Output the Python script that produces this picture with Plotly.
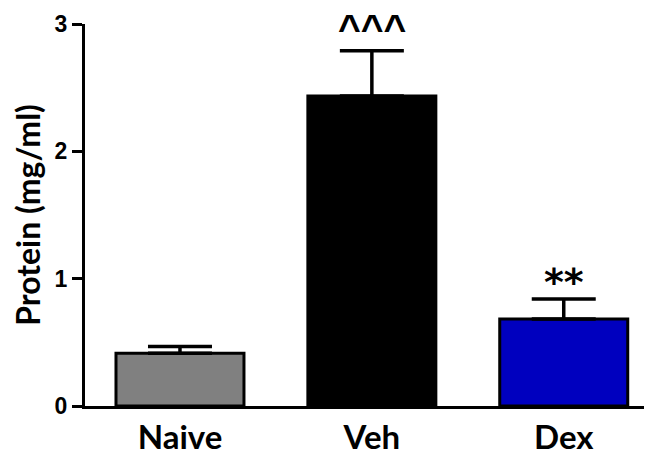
import plotly.graph_objects as go

categories = ["Naive", "Veh", "Dex"]
means = [0.415, 2.435, 0.683]
sem = [0.052, 0.355, 0.157]
colors = ["#808080", "#000000", "#0000BF"]
marks = ["", "^^^", "**"]
y_ticks = [0, 1, 2, 3]

xpos = list(range(len(categories)))

fig = go.Figure()
fig.add_trace(go.Bar(
    x=xpos, y=means, width=0.667,
    marker=dict(color=colors, line=dict(color="black", width=3)),
    error_y=dict(type="data", array=sem, arrayminus=[0]*len(sem), symmetric=False,
                 color="black", thickness=3.5, width=32),
    showlegend=False,
))

mark_fonts = {
    "^^^": dict(family="Liberation Sans", size=39, color="black", weight="bold"),
    "**": dict(family="DejaVu Sans", size=38, color="black", weight="bold"),
}
mark_shift = {"^^^": -1, "**": -7}
for i, m in enumerate(marks):
    if not m:
        continue
    fig.add_annotation(
        x=xpos[i], y=means[i] + sem[i], xref="x", yref="y",
        text=m, showarrow=False, yanchor="bottom", yshift=mark_shift[m],
        font=mark_fonts[m],
    )

fig.update_layout(
    width=644, height=451,
    margin=dict(l=77, r=0, t=16, b=53),
    plot_bgcolor="white", paper_bgcolor="white",
    xaxis=dict(
        range=[-0.495, 2.46], tickmode="array", tickvals=xpos, ticktext=categories,
        ticks="", showline=True, linecolor="black", linewidth=3, showgrid=False,
        zeroline=False,
        tickfont=dict(family="Lato", size=33, color="black", weight="bold"),
    ),
    xaxis2=dict(
        range=[-0.495, 2.46], overlaying="x", anchor="y", side="bottom",
        tickmode="array", tickvals=[xpos[1]], ticktext=[""], ticks="outside",
        ticklen=10, tickwidth=3, tickcolor="black", showline=False,
        showgrid=False, zeroline=False, showticklabels=False,
    ),
    yaxis=dict(
        range=[0, 3], tickmode="array", tickvals=y_ticks,
        ticks="outside", ticklen=10, tickwidth=3, tickcolor="black",
        showline=True, linecolor="black", linewidth=3, showgrid=False, zeroline=False,
        tickfont=dict(family="Liberation Sans", size=23, color="black", weight="bold"),
        title=dict(text="Protein (mg/ml)", standoff=11,
                   font=dict(family="Lato", size=32, color="black", weight="bold")),
    ),
)

fig.write_html("out.html")
